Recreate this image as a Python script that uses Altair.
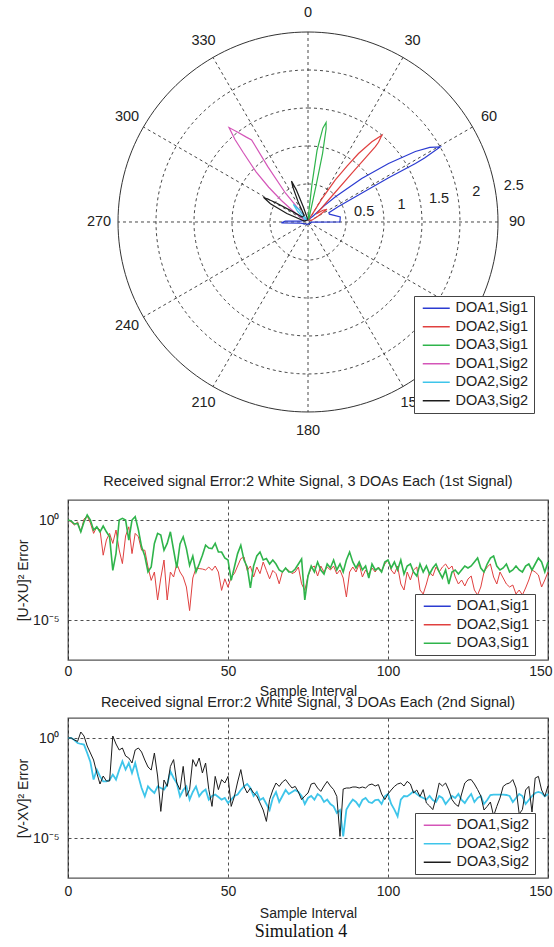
import altair as alt
import pandas as pd

FONT = "Liberation Sans"
TXT = "#222222"

# ---------------- polar beam patterns (angle: degrees clockwise from top, radius) ----------------
polar_names = ["DOA1,Sig1", "DOA2,Sig1", "DOA3,Sig1", "DOA1,Sig2", "DOA2,Sig2", "DOA3,Sig2"]
polar_colors = ["#2b3bd1", "#e0403f", "#2fb44b", "#d455b8", "#3ec5ea", "#1c1c1c"]

doa1_sig1_ang = [0, 40, 45, 47.5, 51, 54, 56.7, 58.5, 60.4, 61.2, 61.4, 61.3, 61.8, 63, 66, 70, 81, 90, 92,
                 100, 180, 262, 268, 272, 276, 360]
doa1_sig1_rad = [0.03, 0.1, 0.3, 0.49, 0.91, 1.31, 1.69, 1.88, 2.0, 1.75, 1.61, 1.21, 0.8, 0.45, 0.3, 0.3,
                 0.43, 0.42, 0.05, 0.04, 0.03, 0.1, 0.35, 0.3, 0.1, 0.03]
doa2_sig1_ang = [0, 28, 31, 33, 35, 36.4, 38.5, 40.4, 41.5, 41.8, 42, 43, 46, 52, 56, 60, 66, 360]
doa2_sig1_rad = [0.03, 0.1, 0.35, 0.66, 0.9, 1.12, 1.35, 1.5, 1.4, 1.33, 0.86, 0.4, 0.15, 0.25, 0.3, 0.15,
                 0.05, 0.03]
doa3_sig1_ang = [0, 4, 6, 7.2, 9, 10.3, 11, 12, 12.5, 13, 16, 360]
doa3_sig1_rad = [0.03, 0.1, 0.5, 0.95, 1.25, 1.33, 1.25, 0.92, 0.5, 0.2, 0.05, 0.03]
doa1_sig2_ang = [0, 300, 305, 309, 311.5, 314, 317, 318.5, 320.1, 322, 324, 325.5, 324, 322, 324, 330, 360]
doa1_sig2_rad = [0.03, 0.05, 0.2, 0.45, 0.69, 0.95, 1.25, 1.45, 1.62, 1.5, 1.38, 1.31, 0.9, 0.48, 0.2,
                 0.05, 0.03]
doa2_sig2_ang = [0, 310, 316, 320, 324, 330, 360]
doa2_sig2_rad = [0.03, 0.05, 0.2, 0.3, 0.2, 0.05, 0.03]
doa3_sig2_ang = [0, 285, 292, 296, 299, 301, 304, 310, 330, 334, 336.5, 338, 340, 343, 350, 360]
doa3_sig2_rad = [0.03, 0.05, 0.3, 0.55, 0.67, 0.5, 0.25, 0.1, 0.1, 0.3, 0.5, 0.58, 0.45, 0.2, 0.05, 0.03]

polar_angles = [doa1_sig1_ang, doa2_sig1_ang, doa3_sig1_ang, doa1_sig2_ang, doa2_sig2_ang, doa3_sig2_ang]
polar_radii = [doa1_sig1_rad, doa2_sig1_rad, doa3_sig1_rad, doa1_sig2_rad, doa2_sig2_rad, doa3_sig2_rad]
for a_, r_ in zip(polar_angles, polar_radii):
    assert len(a_) == len(r_)

ring_radii = [0.5, 1.0, 1.5, 2.0]
outer_radius = [2.5]
spoke_angles = [0, 30, 60, 90, 120, 150]
angle_ticks = [0, 30, 60, 90, 120, 150, 180, 210, 240, 270, 300, 330]
radial_ticks = [0.5, 1.0, 1.5, 2.0, 2.5]
radial_tick_text = ["0.5", "1", "1.5", "2", "2.5"]

# ---------------- error curves (log10 of error) per sample 0..150 ----------------
samples = list(range(151))
doa2_sig1_log = [
    0, -0.1, -0.25, -0.1, -0.6, 0.05, 0.2, -0.15, -0.67, -0.34,
    -0.5, -1.76, -1.0, -0.67, -1.17, -0.5, -1.5, -2.18, -0.8, -0.34,
    -1.68, -0.67, -0.84, -1.51, -1.51, -2.35, -3.02, -2.6, -4.0, -2.9,
    -2.0, -4.0, -2.6, -2.85, -2.18, -2.6, -2.85, -3.35, -4.53, -2.9,
    -2.4, -2.43, -2.45, -2.5, -2.35, -2.52, -2.3, -2.6, -3.52, -2.94,
    -3.36, -2.85, -2.68, -2.3, -1.93, -1.85, -2.52, -2.3, -2.85, -2.35,
    -2.68, -2.1, -2.52, -2.94, -2.52, -2.68, -3.19, -2.6, -2.43, -2.52,
    -2.68, -2.6, -2.35, -3.19, -3.52,
    -2.8, -2.4, -2.3, -2.8, -2.3, -2.6, -2.35, -2.5, -2.3, -2.7,
    -2.5, -2.9, -3.85, -2.6, -2.35, -2.6, -2.2, -2.85, -2.5, -2.7,
    -2.4, -2.6, -2.35, -2.55, -2.2, -2.0, -2.5, -2.7, -2.3, -3.2,
    -3.5, -2.6, -3.0, -2.5, -2.35, -3.5, -3.7, -3.2, -2.6, -2.8,
    -2.35, -2.6, -2.35, -2.2, -2.45, -2.3, -2.85, -3.2, -3.0, -3.3,
    -2.95, -2.8, -3.5, -3.75, -3.35, -2.6, -2.35, -2.2, -2.85, -3.2,
    -2.6, -2.9, -3.2, -3.35, -3.25, -3.7, -3.5, -3.75, -3.4, -3.0,
    -2.5, -2.6, -2.75, -3.35, -3.0, -2.6]
doa3_sig1_log = [
    0, -0.05, -0.2, -0.17, -0.59, -0.1, 0.25, 0.0, -0.5, -0.34,
    -0.6, -0.3, -0.59, -0.84, -2.52, -1.68, 0.0, 0.08, 0.0, -1.0,
    0.0, 0.17, -0.5, -1.34, -1.8, -2.6, -2.35, -1.17, -0.67, -0.75,
    -1.51, -1.17, -0.59, -1.5, -2.4, -1.2, -0.84, -1.43, -2.27, -1.8,
    -2.6, -2.2, -1.76, -1.26, -1.4, -1.43, -1.17, -1.6, -1.6, -1.9,
    -2.0, -3.02, -2.35, -1.68, -1.26, -2.0, -2.35, -3.4, -2.3, -1.8,
    -1.6, -2.0, -1.93, -2.2, -2.0, -2.2, -2.5, -2.6, -2.4, -2.6,
    -2.6, -2.45, -2.2, -1.95, -4.0,
    -2.8, -2.3, -2.6, -2.1, -2.5, -2.7, -2.2, -2.4, -2.0, -2.5,
    -2.2, -2.6, -2.0, -1.6, -2.1, -2.4, -2.1, -2.5, -2.3, -2.9,
    -2.2, -2.5, -2.4, -2.6, -2.1, -2.0, -2.4, -2.1, -2.5, -2.0,
    -2.7, -2.3, -2.2, -2.6, -2.8, -2.2, -2.6, -2.3, -2.7, -2.4,
    -2.2, -2.6, -2.9, -2.5, -3.2, -2.6, -2.5, -2.7, -2.5, -2.3,
    -2.4, -2.3, -2.1, -1.9, -2.4, -2.6, -2.2, -1.9, -1.8, -2.3,
    -2.5, -2.4, -2.2, -2.6, -2.5, -2.3, -2.5, -2.6, -2.3, -2.2,
    -2.5, -2.2, -1.9, -2.1, -2.6, -2.1]
doa2_sig2_log = [
    0, 0, -0.1, -0.25, -0.3, -0.33, -0.75, -1.2, -2.08, -1.58,
    -1.92, -2.17, -2.17, -2.1, -1.83, -2.08, -1.6, -1.17, -1.58, -1.25,
    -1.75, -1.25, -1.92, -2.5, -2.92, -2.42, -2.6, -2.75, -2.42, -2.5,
    -2.58, -2.33, -1.67, -2.0, -2.25, -2.92, -2.6, -2.42, -3.08, -2.7,
    -2.42, -2.92, -2.7, -2.58, -3.08, -2.9, -2.83, -2.95, -3.08, -3.0,
    -3.25, -3.08, -2.9, -2.83, -2.6, -2.42, -2.3, -2.5, -2.9, -2.7,
    -3.1, -3.0, -3.3, -3.6, -3.0, -2.7, -3.2, -2.9, -2.6, -2.8,
    -2.7, -2.6, -2.7, -2.9, -3.3, -3.0,
    -2.9, -3.08, -2.8, -2.92, -3.2, -3.08, -3.3, -3.42, -3.75, -3.6,
    -4.92, -3.58, -3.3, -3.08, -3.2, -3.42, -3.1, -3.0, -3.2, -3.25,
    -3.1, -3.08, -3.3, -2.92, -2.8, -3.3, -3.58, -3.92, -3.08, -2.9,
    -2.92, -2.8, -2.67, -2.8, -2.92, -3.0, -3.08, -2.9, -3.1, -3.2,
    -2.9, -3.0, -3.3, -3.1, -2.9, -3.0, -2.8, -3.1, -3.25, -3.0,
    -2.8, -3.2, -3.0, -2.9, -3.3, -3.1, -2.85, -2.83, -2.83, -2.83,
    -2.83, -2.85, -2.9, -3.2, -3.0, -2.8, -2.9, -3.3, -3.1, -2.9,
    -2.75, -2.7, -2.75, -2.92, -2.8]
doa3_sig2_log = [
    0, 0, -0.1, -0.17, 0.3, 0.1, -0.4, -0.75, -1.1, -1.75,
    -2.3, -1.9, -2.15, -2.15, 0.1, -0.3, -0.6, -0.5, -0.9, -1.0,
    -1.25, -0.6, -0.5, -0.7, -1.1, -1.45, -1.6, -0.75, -1.9, -3.67,
    -2.1, -2.42, -1.42, -1.08, -2.25, -2.58, -1.42, -2.92, -2.58, -1.08,
    -1.42, -1.0, -1.75, -1.25, -2.58, -3.42, -1.92, -2.58, -2.08, -2.25,
    -1.92, -3.42, -2.92, -2.2, -1.58, -2.42, -2.75, -2.5, -2.75, -2.9,
    -3.25, -3.6, -4.17, -3.08, -2.6, -2.25, -2.42, -2.2, -2.08, -2.3,
    -2.5, -2.42, -2.7, -3.08, -2.9, -2.75,
    -2.3, -2.25, -2.5, -2.67, -2.4, -2.17, -2.4, -2.58, -2.92, -4.92,
    -2.55, -2.5, -2.5, -2.45, -2.45, -2.5, -2.45, -2.5, -2.35, -2.3,
    -2.4, -2.33, -2.8, -3.08, -2.8, -2.6, -2.42, -2.3, -2.25, -2.4,
    -2.17, -2.3, -2.75, -2.6, -2.92, -2.58, -3.25, -3.4, -3.58, -3.0,
    -2.25, -2.4, -2.25, -2.6, -3.08, -3.3, -3.42, -2.8, -2.25, -2.1,
    -2.08, -2.3, -2.58, -2.9, -3.6, -3.42, -3.2, -3.9, -3.42, -3.0,
    -2.42, -2.3, -2.25, -2.08, -2.5, -3.8, -3.58, -2.6, -2.42, -3.7,
    -2.0, -1.92, -2.6, -2.92, -2.4]

for arr in (doa2_sig1_log, doa3_sig1_log, doa2_sig2_log, doa3_sig2_log):
    assert len(arr) == 151, len(arr)

sig1_names = ["DOA1,Sig1", "DOA2,Sig1", "DOA3,Sig1"]
sig1_colors = ["#2b3bd1", "#e0403f", "#2fb44b"]
sig2_names = ["DOA1,Sig2", "DOA2,Sig2", "DOA3,Sig2"]
sig2_colors = ["#d455b8", "#3ec5ea", "#1c1c1c"]

title1 = "Received signal Error:2 White Signal, 3 DOAs Each (1st Signal)"
title2 = "Received signal Error:2 White Signal, 3 DOAs Each (2nd Signal)"

LABEL_EXPR = "datum.label + '    '"

# ---------------- polar panel ----------------
PW, PH = 480, 442
xsc = alt.Scale(domain=[-3.158, 3.158], nice=False, zero=False)
ysc = alt.Scale(domain=[-2.895, 2.921], nice=False, zero=False)
DEG = "PI/180"


def pos(xf, yf):
    return dict(x=alt.X(xf, type="quantitative", scale=xsc, axis=None),
                y=alt.Y(yf, type="quantitative", scale=ysc, axis=None))


rows = []
for name, angs, rads in zip(polar_names, polar_angles, polar_radii):
    for i, (a, r) in enumerate(zip(angs, rads)):
        rows.append({"series": name, "idx": i, "ang": a, "rad": r})
lobe_df = pd.DataFrame(rows)

circle_steps = list(range(0, 361, 2))
ring_df = pd.DataFrame([{"ring": r, "ang": a} for r in ring_radii for a in circle_steps])
outer_df = pd.DataFrame([{"ring": r, "ang": a} for r in outer_radius for a in circle_steps])

ring_calc = dict(px=f"datum.ring*sin(datum.ang*{DEG})", py=f"datum.ring*cos(datum.ang*{DEG})")

rings = alt.Chart(ring_df).transform_calculate(**ring_calc).mark_line(
    color="#333333", strokeWidth=0.9, strokeDash=[3, 3]
).encode(detail="ring:N", order="ang:Q", **pos("px", "py"))

outer = alt.Chart(outer_df).transform_calculate(**ring_calc).mark_line(
    color="#333333", strokeWidth=1.0
).encode(detail="ring:N", order="ang:Q", **pos("px", "py"))

spokes = alt.Chart(pd.DataFrame({"ang": spoke_angles})).transform_calculate(
    px=f"2.5*sin(datum.ang*{DEG})", py=f"2.5*cos(datum.ang*{DEG})",
    px2=f"-2.5*sin(datum.ang*{DEG})", py2=f"-2.5*cos(datum.ang*{DEG})"
).mark_rule(color="#333333", strokeWidth=0.9, strokeDash=[3, 3]).encode(
    x2="px2:Q", y2="py2:Q", **pos("px", "py"))

ang_labels = alt.Chart(pd.DataFrame({"ang": angle_ticks, "txt": [str(a) for a in angle_ticks]})).transform_calculate(
    px=f"2.75*sin(datum.ang*{DEG})", py=f"2.75*cos(datum.ang*{DEG})"
).mark_text(font=FONT, fontSize=14.5, color=TXT, align="center", baseline="middle").encode(
    text="txt:N", **pos("px", "py"))

rad_labels = alt.Chart(pd.DataFrame({"v": radial_ticks, "txt": radial_tick_text})).transform_calculate(
    px=f"(datum.v+0.25)*sin(80*{DEG})", py=f"(datum.v+0.25)*cos(80*{DEG})"
).mark_text(font=FONT, fontSize=14.5, color=TXT, align="center", baseline="middle").encode(
    text="txt:N", **pos("px", "py"))

lobes = alt.Chart(lobe_df).transform_calculate(
    px=f"datum.rad*sin(datum.ang*{DEG})", py=f"datum.rad*cos(datum.ang*{DEG})"
).mark_line(strokeWidth=1.2).encode(
    order="idx:Q",
    color=alt.Color("series:N", scale=alt.Scale(domain=polar_names, range=polar_colors),
                    legend=alt.Legend(orient="none", legendX=346, legendY=296, title=None,
                                      labelExpr=LABEL_EXPR)),
    **pos("px", "py"))

polar = alt.layer(rings, spokes, outer, ang_labels, rad_labels, lobes).properties(
    width=PW, height=PH, view=alt.ViewBackground(fill="white", stroke="white", strokeOpacity=0))


# ---------------- error panels ----------------
def error_panel(series, names, colors, title, ytitle, legend_y, title_offset, label_pad, xtitle_y, extra=None):
    xaxis = alt.Axis(values=[0, 50, 100, 150], title="Sample Interval", labelPadding=label_pad,
                     titleY=xtitle_y, titleBaseline="middle", labelFlush=True, labelFlushOffset=4,
                     labelOverlap=False)
    yaxis = alt.Axis(values=[1e-5, 1], labelExpr="datum.value > 0.5 ? '10\u2070' : '10\u207b\u2075'",
                     title=ytitle, titleX=-45, titleBaseline="middle", labelPadding=9, labelFlush=False)
    layers = []
    for nm, vals, sw in series:
        d = pd.DataFrame({"sample": samples, "logerr": vals, "series": nm})
        layers.append(
            alt.Chart(d).transform_calculate(err="pow(10, datum.logerr)").mark_line(strokeWidth=sw).encode(
                x=alt.X("sample:Q", scale=alt.Scale(domain=[0, 150], nice=False, zero=False), axis=xaxis),
                y=alt.Y("err:Q", scale=alt.Scale(type="log", domain=[1e-7, 10], nice=False), axis=yaxis),
                color=alt.Color("series:N", scale=alt.Scale(domain=names, range=colors),
                                legend=alt.Legend(orient="none", legendX=347, legendY=legend_y, title=None,
                                                  labelExpr=LABEL_EXPR)),
            ))
    if extra is not None:
        layers.append(extra)
    return alt.layer(*layers).properties(
        width=480, height=160,
        title=alt.TitleParams(title, font=FONT, fontSize=14.5, fontWeight="normal", color=TXT,
                              offset=title_offset, anchor="middle"))


panel1 = error_panel([("DOA2,Sig1", doa2_sig1_log, 1.0), ("DOA3,Sig1", doa3_sig1_log, 1.6)],
                     sig1_names, sig1_colors, title1, "[U-XU]\u00b2 Error", 94, 11, 4, 31)

caption = alt.Chart(pd.DataFrame({"cap": ["Simulation 4"]})).mark_text(
    font="Liberation Serif", fontSize=18, color="#111111", align="center", baseline="middle"
).encode(text="cap:N", x=alt.value(233), y=alt.value(214))

panel2 = error_panel([("DOA2,Sig2", doa2_sig2_log, 1.8), ("DOA3,Sig2", doa3_sig2_log, 1.0)],
                     sig2_names, sig2_colors, title2, "[V-XV]\u00b2 Error", 95, 8, 6, 35, extra=caption)

chart = alt.vconcat(polar, panel1, panel2, spacing=58, bounds="flush").resolve_scale(
    color="independent", x="independent", y="independent"
).resolve_legend(color="independent").properties(
    padding={"left": 15, "top": 0, "right": 0, "bottom": 0}, background="white"
).configure_view(
    stroke="#555555", strokeWidth=1.3, fill="white"
).configure_axis(
    labelFont=FONT, labelFontSize=14, labelColor=TXT, titleFont=FONT, titleFontSize=14,
    titleFontWeight="normal", titleColor=TXT, ticks=False, domain=False, grid=True,
    gridDash=[3, 3], gridColor="#222222", gridWidth=0.8, gridOpacity=1
).configure_legend(
    labelFont=FONT, labelFontSize=14.5, labelColor=TXT, symbolType="M-3,0H3", symbolSize=81,
    symbolStrokeWidth=1.5, strokeColor="#444444", fillColor="white", padding=5, rowPadding=3.5,
    symbolOffset=10, labelOffset=12
)

chart.save("out.html", embed_options={"renderer": "svg", "actions": False})
